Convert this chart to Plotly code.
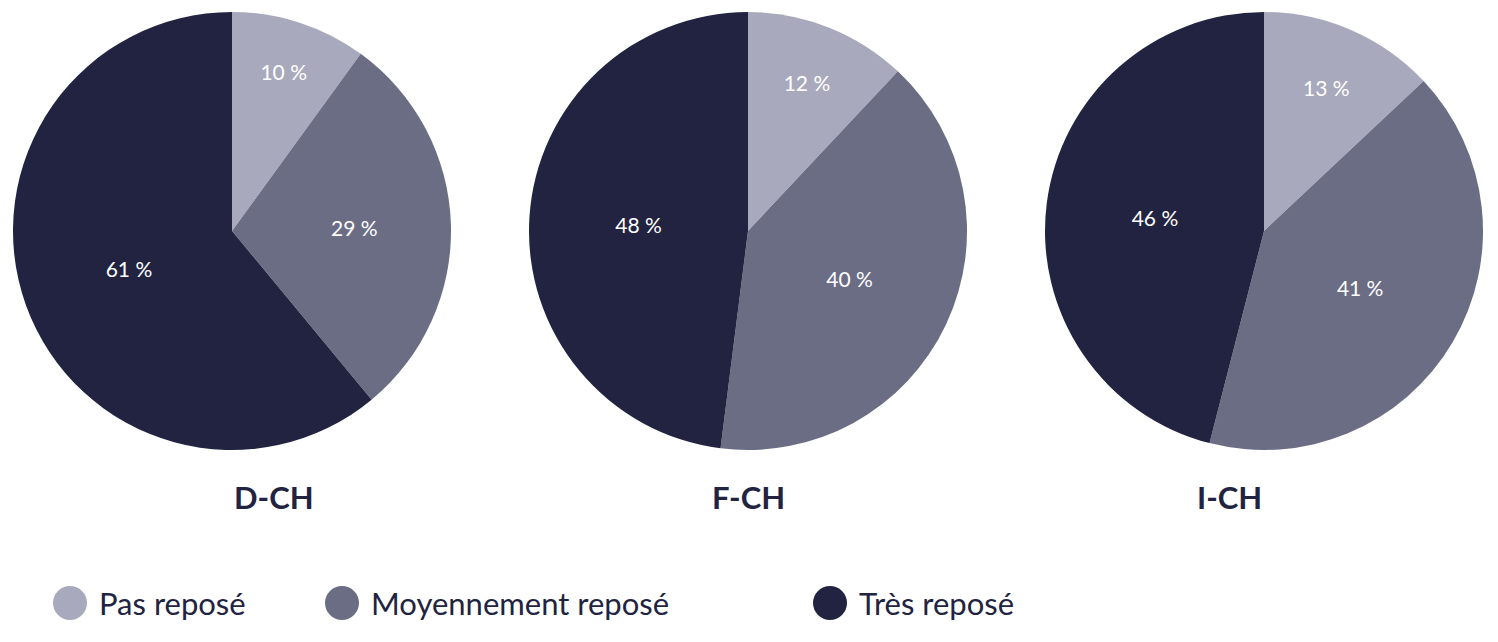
import plotly.graph_objects as go

categories = ["Pas reposé", "Moyennement reposé", "Très reposé"]
regions = ["D-CH", "F-CH", "I-CH"]
values = {
    "D-CH": [10, 29, 61],
    "F-CH": [12, 40, 48],
    "I-CH": [13, 41, 46],
}
colors = ["#a9a9bd", "#6b6d85", "#212340"]

OFF = 8  # page body margin
W, H = 1498 - 2 * OFF, 642 - 2 * OFF
centers = [232, 748, 1264]
R = 219
cy = 231

def px(x):
    return (x - OFF) / W

def py(y):
    return 1 - (y - OFF) / H

fig = go.Figure()
for reg, cx in zip(regions, centers):
    v = values[reg]
    fig.add_trace(go.Pie(
        labels=categories, values=v, sort=False, direction="clockwise", rotation=0,
        marker=dict(colors=colors, line=dict(width=0)),
        text=[f"{x} %" for x in v], textinfo="text", textposition="inside",
        insidetextorientation="horizontal",
        textfont=dict(color="white", size=21, family="Lato"),
        hoverinfo="label+percent", showlegend=False,
        domain=dict(x=[px(cx - R), px(cx + R)], y=[py(cy + R), py(cy - R)]),
    ))
    fig.add_annotation(x=px(cx), y=py(497), xref="paper", yref="paper", text=f"<b>{reg}</b>",
                       yanchor="middle", showarrow=False,
                       font=dict(size=31, color="#212340", family="Lato"))

legend_x = [70, 342, 830]
for cat, col, lx in zip(categories, colors, legend_x):
    fig.add_shape(type="circle", xref="paper", yref="paper",
                  x0=px(lx - 17), x1=px(lx + 17), y0=py(603 + 17), y1=py(603 - 17),
                  fillcolor=col, line=dict(width=0))
    fig.add_annotation(x=px(lx + 27), y=py(603), xref="paper", yref="paper", text=cat,
                       xanchor="left", yanchor="middle", showarrow=False,
                       font=dict(size=31, color="#212340", family="Lato"))

fig.update_layout(width=W, height=H, margin=dict(l=0, r=0, t=0, b=0),
                  paper_bgcolor="white", plot_bgcolor="white")
fig.write_html("out.html")
